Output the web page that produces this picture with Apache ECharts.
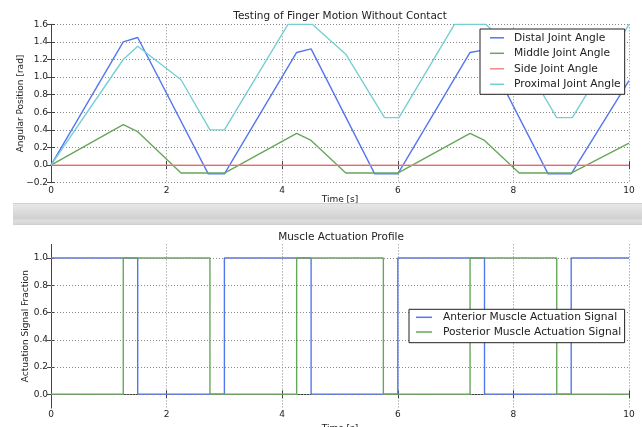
<!DOCTYPE html>
<html>
<head>
<meta charset="utf-8">
<script src="https://cdn.jsdelivr.net/npm/echarts@6/dist/echarts.min.js"></script>
<style>html,body{margin:0;padding:0;background:#fff;}#c{width:642px;height:427px;}</style>
</head>
<body>
<div id="c"></div>
<script>
// ---- Top chart data ----
const tDistal = [0, 1.25, 1.5, 2.72, 3.0, 4.25, 4.5, 5.6, 6.0, 7.25, 7.5, 8.6, 9.0, 10];
const distal  = [0, 1.40, 1.45, -0.1, -0.1, 1.28, 1.32, -0.1, -0.1, 1.28, 1.31, -0.1, -0.1, 0.96];
const tMiddle = [0, 1.25, 1.5, 2.25, 3.0, 4.25, 4.5, 5.1, 6.0, 7.25, 7.5, 8.1, 9.0, 10];
const middle  = [0, 0.46, 0.38, -0.09, -0.09, 0.36, 0.28, -0.09, -0.09, 0.36, 0.28, -0.09, -0.09, 0.25];
const tSide = [0, 10];
const side  = [0, 0];
const tProx = [0, 1.25, 1.5, 2.25, 2.75, 3.0, 4.1, 4.52, 5.1, 5.77, 6.02, 6.98, 7.52, 8.1, 8.75, 9.02, 10];
const prox  = [0, 1.2, 1.35, 0.97, 0.4, 0.4, 1.6, 1.6, 1.26, 0.54, 0.54, 1.6, 1.6, 1.26, 0.54, 0.54, 1.6];
const topNames = ['Distal Joint Angle', 'Middle Joint Angle', 'Side Joint Angle', 'Proximal Joint Angle'];
// ---- Bottom chart data ----
const tAnt  = [0, 1.5, 3.0, 4.5, 6.0, 7.5, 9.0, 10];
const ant   = [1, 0, 1, 0, 1, 0, 1, 1];
const tPost = [0, 1.25, 2.75, 4.25, 5.75, 7.25, 8.75, 10];
const post  = [0, 1, 0, 1, 0, 1, 0, 0];
const botNames = ['Anterior Muscle Actuation Signal', 'Posterior Muscle Actuation Signal'];
const botYTicks = [0, 0.2, 0.4, 0.6, 0.8, 1.0];

const zip = (xs, ys) => xs.map((x, i) => [x, ys[i]]);
const FONT = 'DejaVu Sans';
const TXT = '#222';
const AX = '#444';
const C = {blue: '#5577ee', green: '#66a85a', red: '#ee8a8a', cyan: '#77cfd6'};

const fmt = v => v.toFixed(1).replace('-', '\u2212');
const gridLine = {show: true, lineStyle: {color: '#8a8a8a', type: [1, 2], width: 1}};
const tick = {show: true, inside: true, length: 4, lineStyle: {color: AX}};
const axLine = {show: true, lineStyle: {color: AX, width: 1}};
const lbl = {color: TXT, fontFamily: FONT, fontSize: 9};
const nameStyle = {color: TXT, fontFamily: FONT, fontSize: 9};

function xAxes(gi) {
  return [
    {type: 'value', gridIndex: gi, min: 0, max: 10, interval: 2, position: 'bottom',
     axisLine: axLine, axisTick: tick, splitLine: gridLine,
     axisLabel: Object.assign({margin: gi === 0 ? 3 : 2}, lbl),
     name: 'Time [s]', nameLocation: 'middle', nameGap: gi === 0 ? 12.5 : 16, nameMoveOverlap: false,
     nameTextStyle: nameStyle},
    {type: 'value', gridIndex: gi, min: 0, max: 10, interval: 2, position: 'top',
     axisLine: axLine, axisTick: tick, splitLine: {show: false}, axisLabel: {show: false}}
  ];
}

const series = [
  {name: topNames[0], type: 'line', xAxisIndex: 0, yAxisIndex: 0, data: zip(tDistal, distal), color: C.blue},
  {name: topNames[1], type: 'line', xAxisIndex: 0, yAxisIndex: 0, data: zip(tMiddle, middle), color: C.green},
  {name: topNames[2], type: 'line', xAxisIndex: 0, yAxisIndex: 0, data: zip(tSide, side), color: C.red},
  {name: topNames[3], type: 'line', xAxisIndex: 0, yAxisIndex: 0, data: zip(tProx, prox), color: C.cyan},
  {name: 'grid', type: 'line', xAxisIndex: 2, yAxisIndex: 2, data: [], z: 1,
   markLine: {silent: true, symbol: ['none', 'none'], animation: false, label: {show: false},
     lineStyle: {color: '#8a8a8a', type: [1, 2], width: 1},
     data: botYTicks.map(v => ({yAxis: v}))}},
  {name: botNames[0], type: 'line', xAxisIndex: 2, yAxisIndex: 2, step: 'end', data: zip(tAnt, ant), color: C.blue},
  {name: botNames[1], type: 'line', xAxisIndex: 2, yAxisIndex: 2, step: 'end', data: zip(tPost, post), color: C.green}
].map(s => Object.assign({symbol: 'none', showSymbol: false, animation: false, z: s.z || 2,
  lineStyle: {width: 1.4}}, s));

const legendText = {color: TXT, fontFamily: FONT, fontSize: 10.7, lineHeight: 13};

const option = {
  backgroundColor: '#fff',
  animation: false,
  title: [
    {text: 'Testing of Finger Motion Without Contact', left: 340, top: 10, textAlign: 'center', padding: 0,
     textStyle: {fontFamily: FONT, fontSize: 10.5, fontWeight: 'normal', color: TXT, lineHeight: 12}},
    {text: 'Muscle Actuation Profile', left: 341, top: 231.5, textAlign: 'center', padding: 0,
     textStyle: {fontFamily: FONT, fontSize: 10.5, fontWeight: 'normal', color: TXT, lineHeight: 12}}
  ],
  grid: [
    {left: 51, right: 13, top: 24.3, height: 158.4, containLabel: false, outerBoundsMode: 'none'},
    {left: 51, right: 13, top: 244.4, height: 163.5, containLabel: false, outerBoundsMode: 'none'}
  ],
  xAxis: xAxes(0).concat(xAxes(1)),
  yAxis: [
    {type: 'value', gridIndex: 0, min: -0.2, max: 1.6, interval: 0.2, position: 'left',
     axisLine: axLine, axisTick: tick, splitLine: gridLine,
     axisLabel: Object.assign({margin: 3, formatter: fmt}, lbl),
     name: 'Angular Position [rad]', nameLocation: 'middle', nameGap: 26, nameMoveOverlap: false,
     nameTextStyle: nameStyle},
    {type: 'value', gridIndex: 0, min: -0.2, max: 1.6, interval: 0.2, position: 'right',
     axisLine: axLine, axisTick: tick, splitLine: {show: false}, axisLabel: {show: false}},
    {type: 'value', gridIndex: 1, min: -0.1, max: 1.1, position: 'left',
     axisLine: axLine, axisTick: Object.assign({customValues: botYTicks}, tick), splitLine: {show: false},
     axisLabel: Object.assign({margin: 3, formatter: fmt, customValues: botYTicks}, lbl),
     name: 'Actuation Signal Fraction', nameLocation: 'middle', nameGap: 20.5, nameMoveOverlap: false,
     nameTextStyle: nameStyle},
    {type: 'value', gridIndex: 1, min: -0.1, max: 1.1, position: 'right',
     axisLine: axLine, axisTick: Object.assign({customValues: botYTicks}, tick), splitLine: {show: false},
     axisLabel: {show: false}}
  ],
  legend: [
    {data: topNames, orient: 'vertical', left: 480, top: 29, padding: [2.3, 4, 3.5, 10], z: 10,
     itemGap: 2.5, itemWidth: 14, itemHeight: 1.5, icon: 'rect',
     backgroundColor: '#fff', borderColor: '#222', borderWidth: 1, borderRadius: 0,
     textStyle: Object.assign({padding: [0, 0, 0, 5]}, legendText), selectedMode: false},
    {data: botNames, orient: 'vertical', left: 409, top: 309.3, padding: [1.5, 3.4, 4.2, 7], z: 10,
     itemGap: 1.7, itemWidth: 16, itemHeight: 1.5, icon: 'rect',
     backgroundColor: '#fff', borderColor: '#222', borderWidth: 1, borderRadius: 0,
     textStyle: Object.assign({padding: [0, 0, 0, 6]}, legendText), selectedMode: false}
  ],
  graphic: [
    {type: 'rect', left: 13, top: 203, z: 100, silent: true,
     shape: {width: 629, height: 22},
     style: {fill: new echarts.graphic.LinearGradient(0, 0, 0, 1, [
       {offset: 0, color: '#c6c6c6'},
       {offset: 0.07, color: '#e6e6e6'},
       {offset: 0.2, color: '#e2e2e2'},
       {offset: 0.72, color: '#d0d0d0'},
       {offset: 0.76, color: '#dedede'},
       {offset: 0.92, color: '#d8d8d8'},
       {offset: 1, color: '#cdcdcd'}
     ])}}
  ],
  series: series
};

const chart = echarts.init(document.getElementById('c'), null, {renderer: 'canvas'});
chart.setOption(option);
</script>
</body>
</html>
